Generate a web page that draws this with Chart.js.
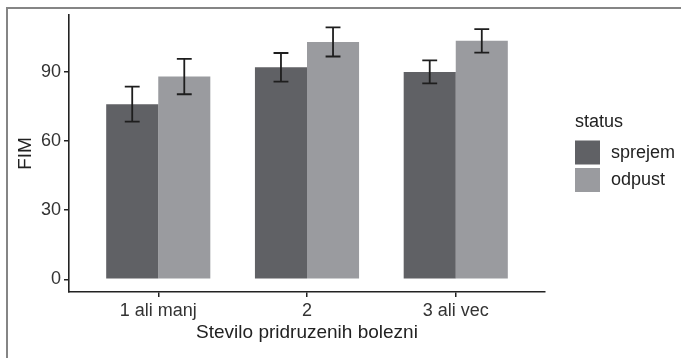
<!DOCTYPE html>
<html>
<head>
<meta charset="utf-8">
<script src="https://cdn.jsdelivr.net/npm/chart.js@4.4.1/dist/chart.umd.min.js"></script>
<style>
  html, body { margin: 0; padding: 0; background: #fff; }
  #wrap { position: relative; width: 681px; height: 358px; overflow: hidden; }
  #wrap canvas { position: absolute; left: 0; top: 0; }
  #frame { position: absolute; left: 6px; top: 7px; right: -4px; bottom: -4px;
    border-left: 2px solid #858585; border-top: 2px solid #858585; pointer-events: none; }
</style>
</head>
<body>
<div id="wrap">
  <canvas id="chart" width="681" height="358"></canvas>
  <div id="frame"></div>
</div>
<script>
const categories = ["1 ali manj", "2", "3 ali vec"];
const sprejem = [76, 92, 90];
const sprejemErr = [7.6, 6.2, 5.0];
const odpust = [88, 103, 103.5];
const odpustErr = [7.7, 6.3, 5.1];
const yTicks = [0, 30, 60, 90];

const FONT = '"Liberation Sans", Arial, sans-serif';
const DARK = "#606165";
const LIGHT = "#9a9b9f";

const toPoints = vals => vals.map((v, i) => ({ x: i + 1, y: v }));

// error bars (mean +/- sd), cap width 0.1 of a category
const errorBars = {
  id: "errorBars",
  afterDatasetsDraw(chart) {
    const { ctx, scales } = chart;
    const cap = (scales.x.getPixelForValue(1.05) - scales.x.getPixelForValue(1));
    ctx.save();
    ctx.strokeStyle = "#1e1e1e";
    ctx.lineWidth = 1.8;
    chart.data.datasets.forEach((ds, di) => {
      const meta = chart.getDatasetMeta(di);
      meta.data.forEach((bar, i) => {
        const v = ds.data[i].y, e = ds.err[i];
        const yTop = scales.y.getPixelForValue(v + e);
        const yBot = scales.y.getPixelForValue(v - e);
        ctx.beginPath();
        ctx.moveTo(bar.x, yTop); ctx.lineTo(bar.x, yBot);
        ctx.moveTo(bar.x - cap, yTop); ctx.lineTo(bar.x + cap, yTop);
        ctx.moveTo(bar.x - cap, yBot); ctx.lineTo(bar.x + cap, yBot);
        ctx.stroke();
      });
    });
    ctx.restore();
  }
};

// ggplot-style legend on the right
const sideLegend = {
  id: "sideLegend",
  afterDraw(chart) {
    const { ctx, chartArea } = chart;
    const x0 = chartArea.right + 30;
    const mid = (chartArea.top + chartArea.bottom) / 2;
    ctx.save();
    ctx.font = "18px " + FONT;
    ctx.textBaseline = "middle";
    ctx.fillStyle = "#222";
    ctx.fillText("status", x0, mid - 31);
    chart.data.datasets.forEach((ds, i) => {
      const top = mid - 13 + i * 27.5;
      ctx.fillStyle = ds.backgroundColor;
      ctx.fillRect(x0, top, 25, 24);
      ctx.fillStyle = "#222";
      ctx.fillText(ds.label, x0 + 36, top + 12.5);
    });
    ctx.restore();
  }
};

new Chart(document.getElementById("chart"), {
  type: "bar",
  data: {
    datasets: [
      { label: "sprejem", data: toPoints(sprejem), err: sprejemErr, backgroundColor: DARK, borderWidth: 0 },
      { label: "odpust", data: toPoints(odpust), err: odpustErr, backgroundColor: LIGHT, borderWidth: 0 }
    ]
  },
  options: {
    responsive: false,
    devicePixelRatio: 1,
    animation: false,
    categoryPercentage: 0.7,
    barPercentage: 1,
    layout: { padding: { left: 0, top: 15, right: 136, bottom: 0 } },
    plugins: {
      legend: { display: false },
      tooltip: { enabled: false }
    },
    scales: {
      x: {
        type: "linear",
        offset: false,
        min: 0.4,
        max: 3.6,
        afterBuildTicks: s => { s.ticks = categories.map((c, i) => ({ value: i + 1 })); },
        afterFit: s => { s.height = 66; },
        ticks: {
          callback: v => categories[v - 1],
          font: { family: FONT, size: 18 },
          color: "#333",
          padding: 3,
          maxRotation: 0
        },
        grid: { display: true, offset: false, drawOnChartArea: false, drawTicks: true, tickLength: 5, color: "#222", lineWidth: 1.5 },
        border: { display: true, color: "#222", width: 1.6 },
        title: {
          display: true,
          text: "Stevilo pridruzenih bolezni",
          font: { family: FONT, size: 19 },
          color: "#222",
          padding: { top: 0, bottom: 14 }
        }
      },
      y: {
        min: -5.5,
        max: 114.7,
        afterBuildTicks: s => { s.ticks = yTicks.map(v => ({ value: v })); },
        afterFit: s => { s.width = 69; },
        ticks: {
          font: { family: FONT, size: 18 },
          color: "#333",
          padding: 3
        },
        grid: { display: true, offset: false, drawOnChartArea: false, drawTicks: true, tickLength: 5, color: "#222", lineWidth: 1.5 },
        border: { display: true, color: "#222", width: 1.6 },
        title: {
          display: true,
          text: "FIM",
          font: { family: FONT, size: 19 },
          color: "#222",
          padding: { top: 14, bottom: 0 }
        }
      }
    }
  },
  plugins: [errorBars, sideLegend]
});
</script>
</body>
</html>
